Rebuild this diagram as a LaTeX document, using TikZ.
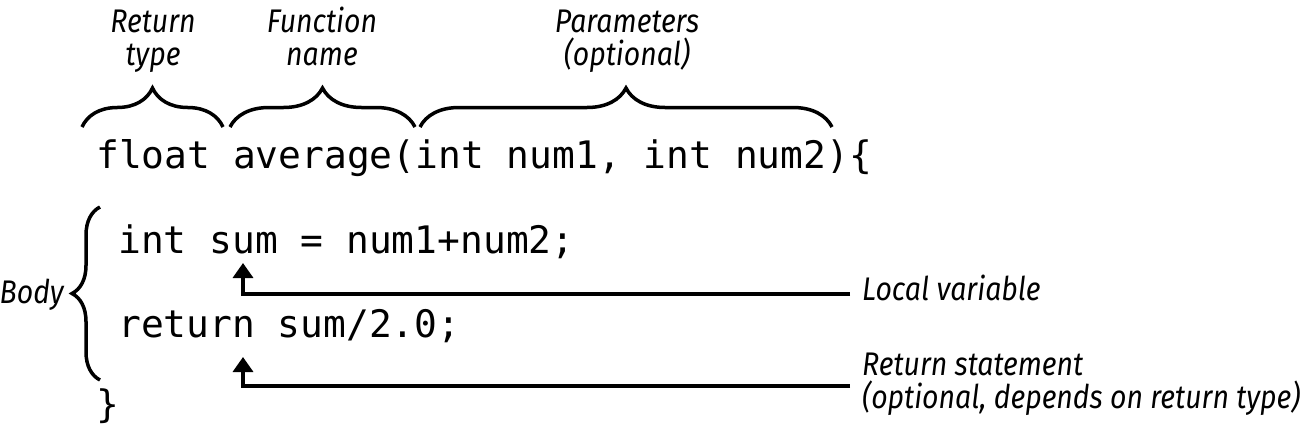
\documentclass[tikz,border=0pt]{standalone}
\usepackage{fontspec}
\usepackage{tikz}
\usetikzlibrary{arrows.meta,positioning,decorations.pathreplacing}
\setmonofont{DejaVu Sans Mono}
\newfontfamily\notefamily[FakeStretch=0.87]{Fira Sans}
\newcommand\codefont{\ttfamily\fontsize{37.9}{40}\selectfont}
\newcommand\notefont{\notefamily\itshape\fontsize{32.7}{32.5}\selectfont}

\begin{document}
\begin{tikzpicture}[
    x=1pt, y=-1pt,
    code/.style={font=\codefont, inner sep=0pt, anchor=base west},
    note/.style={font=\notefont, inner sep=0pt, align=center, anchor=base},
    side/.style={font=\notefont, inner sep=0pt, align=left, anchor=base west},
    brace/.style={decorate, decoration={brace, amplitude=#1}, line width=3.5pt},
    line/.style={-{Triangle[length=15pt, width=20pt]}, line width=3.5pt}
  ]
    \useasboundingbox (0,0) rectangle (1305,429);

    % code
    \node[code] (sig) at (96,168) {float average(int num1, int num2)\{};
    \node[code] (decl) at (118,253) {int sum = num1+num2;};
    \node[code] (ret) at (118,337) {return sum/2.0;};
    \node[code] (close) at (96,417) {\}};

    % labels above the signature (base = last line)
    \node[note] (rtype) at (153,65) {Return\\type};
    \node[note] (fname) at (322,65) {Function\\name};
    \node[note] (params) at (627,65) {Parameters\\(optional)};

    \draw[brace=39pt] (82,127) -- (223,127);
    \draw[brace=39pt] (230,127) -- (415,127);
    \draw[brace=39pt] (420,127) -- (832,127);

    % body
    \draw[brace=28pt] (100,380) -- (100,207);
    \node[side, anchor=base east] (body) at (64,303) {Body};

    % notes on the right
    \node[side] (local) at (862,300) {Local variable};
    \node[side] (retnote) at (862,408) {Return statement\\(optional, depends on return type)};
    \coordinate (sumtip) at (243,263);
    \coordinate (rettip) at (243,357);

    \draw[line] ([xshift=-12pt,yshift=6pt]local.base west) -| (sumtip);
    \draw[line] ([xshift=-12pt,yshift=22pt]retnote.base west) -| (rettip);
  \end{tikzpicture}
\end{document}
